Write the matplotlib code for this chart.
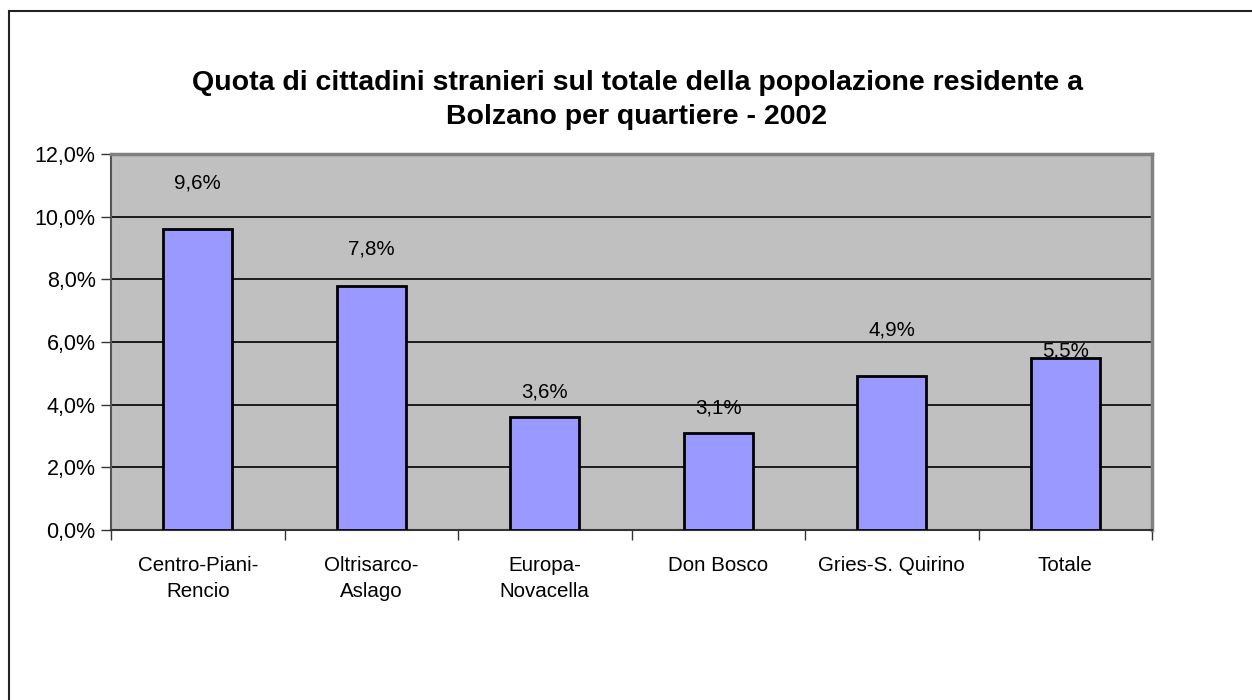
import numpy as np
import matplotlib.pyplot as plt
from matplotlib.patches import Rectangle

plt.rcParams['font.family'] = ['Liberation Sans', 'DejaVu Sans']

# dati
quartieri = ['Centro-Piani-\nRencio', 'Oltrisarco-\nAslago', 'Europa-\nNovacella',
             'Don Bosco', 'Gries-S. Quirino', 'Totale']
quota = [9.6, 7.8, 3.6, 3.1, 4.9, 5.5]
y_ticks = [0, 2, 4, 6, 8, 10, 12]

# posizione etichette (pixel sopra la barra, come in Excel)
label_offset_px = [46, 37, 25, 25, 46, 7]

W, H = 1252, 700
fig = plt.figure(figsize=(W / 100, H / 100), dpi=100)

# cornice esterna
fig.patches.append(Rectangle((9 / W, -0.1), 2.0, (H - 11) / H + 0.1,
                             transform=fig.transFigure, fill=False,
                             edgecolor='#222222', linewidth=1.5))

ax = fig.add_axes([111 / W, (H - 530) / H, (1152 - 111) / W, (530 - 154) / H])
ax.set_facecolor('#C0C0C0')

x = np.arange(len(quartieri))
ax.bar(x, quota, width=0.40, color='#9999FF', edgecolor='black', linewidth=2, zorder=3)

for xi, v, off in zip(x, quota, label_offset_px):
    ax.annotate(f"{v:.1f}%".replace('.', ','), (xi, v), xytext=(0, off * 0.72),
                textcoords='offset points', ha='center', va='center',
                fontsize=14.8, color='black')

ax.set_xlim(-0.5, len(quartieri) - 0.5)
ax.set_ylim(0, 12)
ax.set_yticks(y_ticks)
ax.set_yticklabels([f"{t:.1f}%".replace('.', ',') for t in y_ticks], fontsize=15.5)
ax.yaxis.grid(True, color='black', linewidth=1.2, zorder=1)
ax.set_axisbelow(True)

ax.set_xticks(x)
ax.set_xticklabels(quartieri, fontsize=14.8, linespacing=1.42)
ax.tick_params(axis='x', length=0, pad=19)
ax.set_xticks(np.arange(-0.5, len(quartieri)), minor=True)
ax.tick_params(axis='x', which='minor', length=7, width=1, color='#333333', direction='out')
ax.tick_params(axis='y', length=7, width=1, color='#333333', pad=4)

for side in ['top', 'right']:
    ax.spines[side].set_color('#808080')
    ax.spines[side].set_linewidth(2.5)
ax.spines['left'].set_color('#555555')
ax.spines['left'].set_linewidth(1.5)
ax.spines['bottom'].set_color('#333333')
ax.spines['bottom'].set_linewidth(1.5)

fig.text(637 / W, 1 - 100 / H,
         'Quota di cittadini stranieri sul totale della popolazione residente a\nBolzano per quartiere - 2002',
         ha='center', va='center', fontsize=20.5, fontweight='bold', linespacing=1.4)

fig.savefig('out.png', dpi=100)
